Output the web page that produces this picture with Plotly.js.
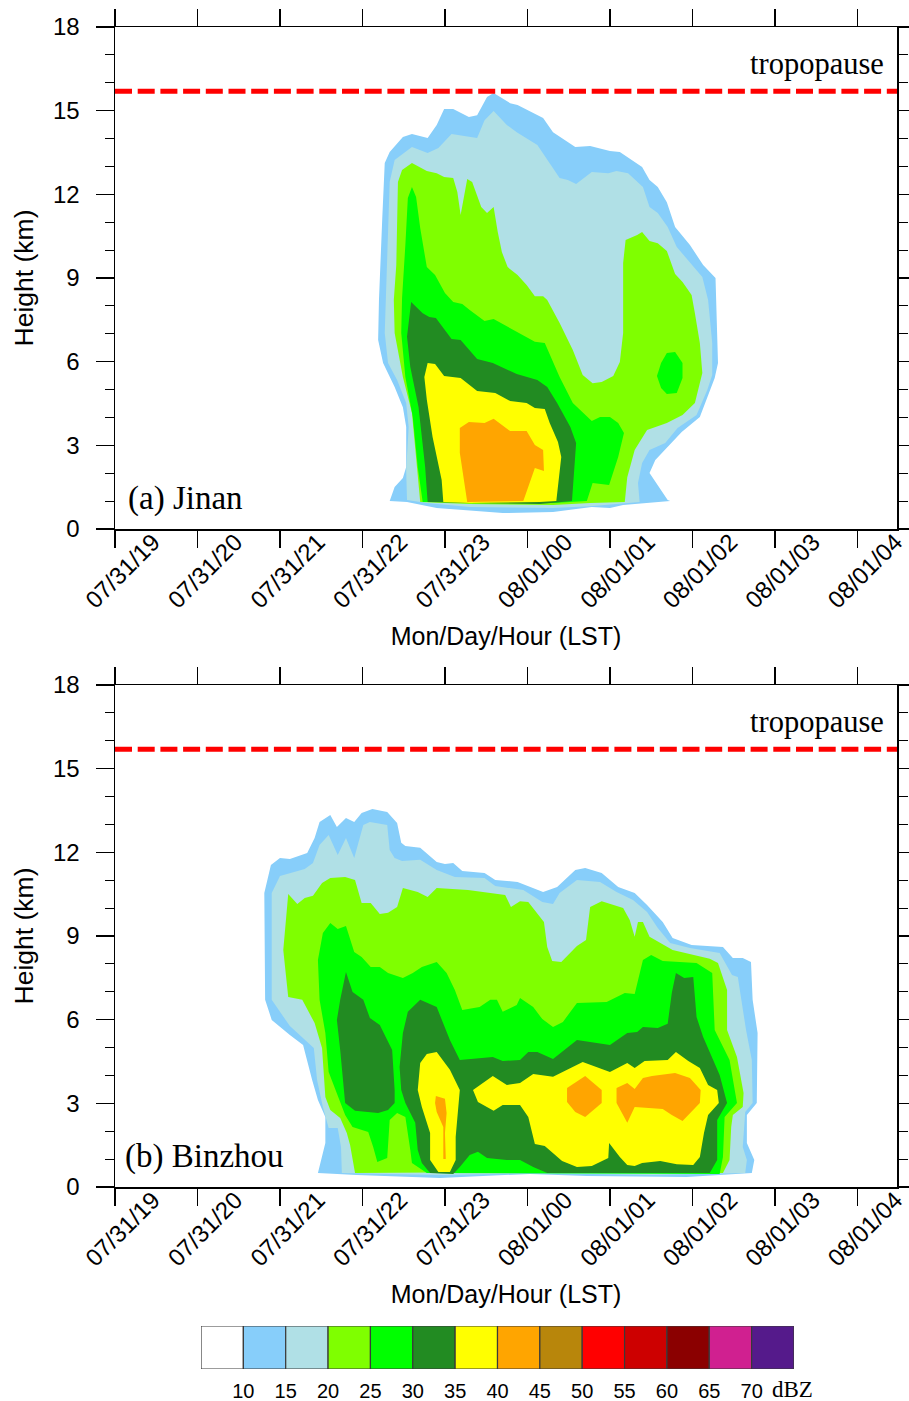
<!DOCTYPE html>
<html><head><meta charset="utf-8">
<script src="https://cdn.plot.ly/plotly-3.0.1.min.js"></script>
<style>html,body{margin:0;padding:0;background:#fff}#c{width:909px;height:1401px}</style>
</head><body><div id="c"></div>
<script>
// hours after 07/31 19 LST
const tickHours=[0,1,2,3,4,5,6,7,8,9];
const tickLabels=['07/31/19','07/31/20','07/31/21','07/31/22','07/31/23','08/01/00','08/01/01','08/01/02','08/01/03','08/01/04'];
const levels=['10','15','20','25','30','35','40','45','50','55','60','65','70'];
const colors=['#FFFFFF','#87CEFA','#B0E0E6','#7FFF00','#00FF00','#228B22','#FFFF00','#FFA500','#B8860B','#FF0000','#CD0000','#8B0000','#D02090','#551A8B'];
const tropopauseKm=15.7;

// Contour outlines: [hour, km]
const jinan10=[[3.33,1.00],[3.39,1.51],[3.49,1.83],[3.53,2.22],[3.53,3.66],[3.49,4.37],[3.39,5.09],[3.25,5.95],[3.19,6.78],[3.20,8.21],[3.24,11.15],[3.27,13.12],[3.33,13.52],[3.49,14.06],[3.60,14.16],[3.79,14.02],[3.90,14.49],[3.99,15.06],[4.10,15.06],[4.29,14.77],[4.39,14.84],[4.51,15.49],[4.59,15.63],[4.79,15.27],[4.88,15.20],[5.07,14.92],[5.19,14.74],[5.31,14.23],[5.58,13.70],[5.76,13.73],[6.00,13.55],[6.12,13.52],[6.39,12.98],[6.48,12.51],[6.58,12.26],[6.69,11.72],[6.79,10.83],[6.97,10.18],[7.13,9.47],[7.28,9.00],[7.31,6.42],[7.31,5.95],[7.27,5.41],[7.09,4.02],[6.87,3.48],[6.55,2.47],[6.48,2.01],[6.70,1.04],[6.73,1.00],[6.16,0.86],[6.00,0.75],[5.78,0.79],[5.31,0.61],[4.70,0.57],[3.90,0.75],[3.54,0.97]];
const jinan15=[[3.54,1.04],[3.53,2.12],[3.56,3.66],[3.53,4.52],[3.42,5.34],[3.31,5.95],[3.27,7.03],[3.28,8.03],[3.33,12.44],[3.39,13.23],[3.60,13.70],[3.79,13.48],[3.92,13.66],[4.08,14.16],[4.39,14.02],[4.48,14.66],[4.59,14.99],[4.75,14.49],[4.87,14.23],[5.12,13.77],[5.24,13.23],[5.39,12.59],[5.49,12.51],[5.59,12.37],[5.78,12.80],[5.98,12.76],[6.08,12.84],[6.22,12.76],[6.40,12.26],[6.48,11.55],[6.58,11.33],[6.70,10.83],[6.81,10.11],[7.12,9.04],[7.19,8.21],[7.24,6.67],[7.24,5.52],[7.18,4.98],[7.05,4.09],[6.82,3.62],[6.67,3.08],[6.48,2.83],[6.39,2.37],[6.34,1.65],[6.36,0.97],[6.12,0.90],[5.76,0.82],[5.31,0.75],[4.30,0.79],[3.78,0.93]];
const jinan20=[[3.70,0.97],[3.66,2.22],[3.60,4.16],[3.49,5.45],[3.39,7.03],[3.38,8.21],[3.41,9.47],[3.43,12.44],[3.48,12.87],[3.60,13.12],[3.78,12.84],[3.90,12.76],[3.99,12.62],[4.10,12.59],[4.15,12.08],[4.19,11.26],[4.27,12.55],[4.33,12.44],[4.44,11.55],[4.51,11.33],[4.59,11.55],[4.64,10.65],[4.69,9.93],[4.76,9.39],[4.88,9.11],[4.99,8.75],[5.09,8.35],[5.19,8.35],[5.24,8.21],[5.39,7.39],[5.55,6.42],[5.67,5.52],[5.79,5.23],[5.90,5.27],[6.04,5.49],[6.12,5.99],[6.16,7.03],[6.16,9.54],[6.19,10.36],[6.33,10.54],[6.39,10.65],[6.48,10.33],[6.58,10.25],[6.69,9.97],[6.79,9.14],[6.88,8.86],[6.99,8.39],[7.03,7.74],[7.09,6.67],[7.12,5.59],[7.03,4.52],[6.88,4.09],[6.69,3.80],[6.45,3.55],[6.30,2.83],[6.21,1.86],[6.18,0.97],[5.76,0.93],[5.31,0.86],[4.30,0.90]];
const jinan25=[[3.73,0.97],[3.67,2.22],[3.61,4.02],[3.52,5.45],[3.47,7.03],[3.48,8.28],[3.52,10.18],[3.55,11.87],[3.60,12.26],[3.65,11.90],[3.70,10.79],[3.78,9.39],[3.88,9.11],[4.00,8.46],[4.10,8.14],[4.21,8.07],[4.30,7.85],[4.48,7.46],[4.59,7.53],[4.79,7.21],[5.09,6.71],[5.21,6.67],[5.27,6.24],[5.39,5.45],[5.55,4.52],[5.72,4.02],[5.78,3.87],[5.88,4.02],[6.00,4.02],[6.10,3.80],[6.17,3.44],[6.10,2.58],[5.99,1.58],[5.79,1.65],[5.72,1.00],[5.31,0.93],[4.30,0.97]];
const jinan25Blob=[[6.69,6.31],[6.79,6.35],[6.88,5.95],[6.88,5.41],[6.81,4.88],[6.69,4.84],[6.62,5.06],[6.57,5.49],[6.62,5.95]];
const jinan30=[[3.79,0.97],[3.76,2.22],[3.68,4.37],[3.58,5.81],[3.54,6.89],[3.59,8.14],[3.73,7.74],[3.81,7.60],[3.89,7.57],[4.08,6.81],[4.19,6.78],[4.39,6.10],[4.58,5.95],[4.87,5.56],[5.12,5.34],[5.24,5.09],[5.36,4.52],[5.52,3.66],[5.59,3.08],[5.54,1.00],[5.15,0.90],[4.30,0.93]];
const jinan35=[[3.98,0.97],[3.96,1.76],[3.85,3.30],[3.78,4.63],[3.75,5.45],[3.79,5.95],[3.88,5.92],[3.99,5.49],[4.19,5.41],[4.39,4.95],[4.61,4.88],[4.79,4.59],[4.99,4.52],[5.09,4.34],[5.21,4.30],[5.27,3.80],[5.37,3.12],[5.41,2.58],[5.35,1.00],[5.15,0.97],[4.30,0.93]];
const jinan40=[[4.27,0.97],[4.22,1.86],[4.18,2.73],[4.18,3.62],[4.29,3.84],[4.48,3.80],[4.59,3.95],[4.79,3.51],[4.99,3.51],[5.09,3.01],[5.19,2.83],[5.20,2.08],[5.09,2.19],[4.95,1.00]];

const binzhou10=[[2.46,0.50],[2.50,0.97],[2.55,1.58],[2.55,2.51],[2.46,3.12],[2.39,3.84],[2.30,4.91],[2.28,5.09],[2.12,5.45],[1.90,5.99],[1.82,6.71],[1.81,10.54],[1.89,11.55],[2.00,11.80],[2.12,11.76],[2.33,11.98],[2.42,12.51],[2.48,13.09],[2.61,13.34],[2.69,12.91],[2.80,13.23],[2.90,13.09],[2.99,13.41],[3.12,13.55],[3.30,13.45],[3.42,13.05],[3.47,12.34],[3.52,12.23],[3.70,12.16],[3.90,11.65],[4.00,11.58],[4.10,11.62],[4.21,11.33],[4.48,11.26],[4.61,11.01],[4.73,10.97],[4.88,10.94],[5.19,10.58],[5.36,10.76],[5.58,11.37],[5.70,11.44],[5.90,11.26],[6.10,10.76],[6.30,10.54],[6.45,10.11],[6.64,9.50],[6.76,8.93],[6.99,8.68],[7.37,8.61],[7.49,8.21],[7.61,8.21],[7.71,8.07],[7.73,6.71],[7.79,5.52],[7.78,3.01],[7.66,2.58],[7.66,1.58],[7.75,0.97],[7.72,0.50],[6.93,0.36],[5.72,0.39],[5.03,0.47],[3.94,0.32],[2.93,0.43]];
const binzhou15=[[2.75,0.50],[2.74,1.43],[2.70,2.12],[2.59,2.12],[2.52,2.87],[2.45,3.84],[2.41,4.98],[2.24,5.45],[2.12,5.77],[1.90,6.71],[1.90,10.54],[2.00,11.15],[2.30,11.40],[2.40,11.62],[2.48,12.26],[2.59,12.62],[2.70,11.90],[2.80,12.51],[2.90,11.80],[3.01,12.98],[3.09,13.09],[3.30,12.98],[3.33,12.08],[3.39,11.80],[3.48,11.69],[3.70,11.73],[3.90,11.37],[4.12,11.12],[4.48,11.08],[4.61,10.79],[4.95,10.65],[5.18,10.22],[5.31,10.15],[5.39,10.54],[5.60,11.01],[5.88,10.94],[6.08,10.58],[6.28,10.29],[6.45,9.86],[6.58,9.29],[6.73,8.75],[6.97,8.57],[7.33,8.39],[7.48,7.60],[7.55,7.53],[7.65,5.63],[7.72,4.55],[7.73,3.01],[7.64,2.69],[7.61,1.43],[7.66,0.97],[7.64,0.50],[6.52,0.43],[5.03,0.50],[3.98,0.43],[3.33,0.47]];
const binzhou20=[[2.91,0.50],[2.85,1.51],[2.81,1.94],[2.73,2.47],[2.61,2.76],[2.55,3.23],[2.51,4.98],[2.42,5.88],[2.27,6.71],[2.10,6.81],[2.04,8.50],[2.10,10.51],[2.21,10.15],[2.30,10.36],[2.40,10.44],[2.51,10.90],[2.61,11.08],[2.79,11.12],[2.91,11.01],[2.99,10.18],[3.10,10.18],[3.21,9.79],[3.31,9.83],[3.42,10.04],[3.49,10.72],[3.67,10.58],[3.79,10.40],[3.90,10.72],[4.28,10.65],[4.73,10.47],[4.80,10.04],[4.91,10.25],[5.01,10.22],[5.20,9.50],[5.24,8.61],[5.30,8.10],[5.41,8.07],[5.60,8.64],[5.71,8.86],[5.76,10.04],[5.90,10.25],[6.16,10.00],[6.24,9.57],[6.30,8.97],[6.34,9.50],[6.40,9.50],[6.48,8.97],[6.76,8.50],[7.21,8.18],[7.31,8.03],[7.42,7.06],[7.42,5.63],[7.54,4.66],[7.62,3.37],[7.61,2.87],[7.49,2.58],[7.47,2.15],[7.45,0.97],[7.37,0.50],[5.03,0.54]];
const binzhou25=[[3.78,0.50],[3.60,0.86],[3.58,1.33],[3.52,2.51],[3.42,2.65],[3.33,2.40],[3.30,1.04],[3.18,0.90],[3.13,1.43],[3.07,1.97],[2.88,2.15],[2.79,2.58],[2.59,4.12],[2.55,5.52],[2.48,6.71],[2.46,8.14],[2.52,9.11],[2.61,9.47],[2.70,9.25],[2.80,9.36],[2.90,8.43],[2.99,8.25],[3.10,7.89],[3.21,7.89],[3.31,7.67],[3.49,7.49],[3.61,7.67],[3.72,7.89],[3.90,8.07],[4.02,7.67],[4.12,7.06],[4.21,6.35],[4.42,6.45],[4.55,6.71],[4.63,6.71],[4.70,6.28],[4.87,6.53],[4.91,6.78],[5.07,6.45],[5.18,6.02],[5.31,5.74],[5.43,5.92],[5.60,6.60],[5.96,6.63],[6.18,6.96],[6.30,6.92],[6.40,8.14],[6.50,8.32],[6.64,8.10],[7.05,8.03],[7.24,7.67],[7.27,5.63],[7.45,4.55],[7.54,3.01],[7.39,2.51],[7.37,1.08],[7.33,0.47]];
const binzhou30Left=[[2.80,7.71],[2.88,6.99],[3.01,6.71],[3.09,6.06],[3.21,5.81],[3.36,4.91],[3.39,3.48],[3.39,3.01],[3.31,2.76],[3.19,2.65],[2.91,2.73],[2.79,3.01],[2.73,4.91],[2.69,5.99],[2.73,6.71]];
const binzhou30Main=[[3.70,6.71],[3.55,6.28],[3.49,5.52],[3.45,4.30],[3.47,3.48],[3.52,3.01],[3.64,2.30],[3.67,1.33],[3.72,0.86],[3.82,0.50],[4.10,0.47],[4.18,0.72],[4.30,1.15],[4.40,1.26],[4.51,1.04],[4.75,0.97],[4.91,0.97],[5.07,0.72],[5.24,0.50],[7.21,0.50],[7.30,0.97],[7.30,2.40],[7.42,3.01],[7.33,4.02],[7.13,5.38],[7.05,6.10],[7.01,7.53],[6.90,7.49],[6.80,7.67],[6.75,6.96],[6.70,5.85],[6.58,5.70],[6.40,5.74],[6.33,5.56],[6.21,5.52],[6.00,5.09],[5.60,5.27],[5.31,4.59],[5.12,4.84],[5.01,4.84],[4.91,4.55],[4.70,4.52],[4.58,4.66],[4.18,4.55],[4.06,5.27],[3.90,6.45]];
const binzhou35Left=[[3.90,4.84],[3.78,4.77],[3.70,4.45],[3.67,3.48],[3.72,2.87],[3.82,1.94],[3.82,0.97],[3.92,0.54],[4.06,0.54],[4.13,0.97],[4.13,1.79],[4.18,3.48],[4.06,4.20]];
const binzhou35Main=[[4.34,3.48],[4.58,3.98],[4.75,3.66],[4.91,3.73],[5.07,4.05],[5.31,3.95],[5.67,4.48],[6.00,4.12],[6.21,4.45],[6.30,4.27],[6.42,4.52],[6.70,4.55],[6.80,4.84],[6.95,4.52],[7.09,4.27],[7.19,3.66],[7.30,3.48],[7.32,3.01],[7.19,2.58],[7.14,1.94],[7.09,1.08],[7.01,0.79],[6.81,0.82],[6.61,0.93],[6.39,0.86],[6.30,0.75],[6.21,0.79],[6.12,1.08],[5.99,1.58],[5.98,1.04],[5.78,0.75],[5.60,0.72],[5.42,0.93],[5.21,1.47],[5.09,1.54],[5.01,2.51],[4.91,2.94],[4.70,2.94],[4.59,2.73],[4.40,3.05]];
const binzhou40Left=[[3.89,3.26],[4.00,3.16],[4.02,2.65],[4.00,1.94],[4.01,1.00],[3.98,1.00],[3.98,2.15],[3.90,2.69],[3.88,3.01]];
const binzhou40Mid=[[5.70,3.98],[5.90,3.48],[5.90,3.01],[5.70,2.51],[5.58,2.69],[5.48,3.05],[5.48,3.55]];
const binzhou40Right=[[6.21,3.73],[6.30,3.51],[6.40,3.91],[6.51,3.98],[6.79,4.09],[6.97,3.91],[7.10,3.48],[7.09,3.01],[6.88,2.37],[6.75,2.58],[6.64,2.80],[6.30,2.87],[6.21,2.30],[6.08,3.01],[6.08,3.55]];

const C={10:colors[1],15:colors[2],20:colors[3],25:colors[4],30:colors[5],35:colors[6],40:colors[7]};
function band(pts,level,xa,ya){
  return {type:'scatter',mode:'lines',x:pts.map(p=>p[0]),y:pts.map(p=>p[1]),fill:'toself',fillcolor:C[level],
    line:{width:0,color:C[level]},hoverinfo:'skip',showlegend:false,xaxis:xa,yaxis:ya};
}
function tropo(xa,ya){
  return {type:'scatter',mode:'lines',x:[0,9.48],y:[tropopauseKm,tropopauseKm],
    line:{color:'#FF0000',width:5,dash:'17px,5.7px'},hoverinfo:'skip',showlegend:false,xaxis:xa,yaxis:ya,cliponaxis:false};
}
const traces=[
 band(jinan10,10,'x','y'),band(jinan15,15,'x','y'),band(jinan20,20,'x','y'),band(jinan25,25,'x','y'),band(jinan25Blob,25,'x','y'),
 band(jinan30,30,'x','y'),band(jinan35,35,'x','y'),band(jinan40,40,'x','y'),tropo('x','y'),
 band(binzhou10,10,'x2','y2'),band(binzhou15,15,'x2','y2'),band(binzhou20,20,'x2','y2'),band(binzhou25,25,'x2','y2'),
 band(binzhou30Left,30,'x2','y2'),band(binzhou30Main,30,'x2','y2'),band(binzhou35Left,35,'x2','y2'),band(binzhou35Main,35,'x2','y2'),
 band(binzhou40Left,40,'x2','y2'),band(binzhou40Mid,40,'x2','y2'),band(binzhou40Right,40,'x2','y2'),tropo('x2','y2'),
 {type:'bar',x:colors.map((c,i)=>i+0.5),y:colors.map(()=>1),width:1,marker:{color:colors,line:{color:'#3a3a3a',width:1.2}},hoverinfo:'skip',showlegend:false,xaxis:'x3',yaxis:'y3'}
];
const W=909,H=1401;
const sans='"Liberation Sans",Arial,sans-serif', serif='"Liberation Serif","Times New Roman",serif';
function xax(anchor){return {anchor:anchor,domain:[115/W,897/W],range:[0,9.48],tickmode:'array',tickvals:tickHours,ticktext:tickLabels,
  tickangle:-45,ticks:'outside',ticklen:17,tickwidth:1.5,tickcolor:'#000',showline:true,linewidth:1.5,linecolor:'#000',mirror:'allticks',
  showgrid:false,zeroline:false,tickfont:{family:sans,size:24,color:'#000'},ticklabelshift:38,ticklabelstandoff:-29,ticklabeloverflow:'allow',
  title:{text:'Mon/Day/Hour (LST)',font:{family:sans,size:25,color:'#000'},standoff:15},automargin:false};}
function yax(anchor,top,bot){return {anchor:anchor,domain:[1-bot/H,1-top/H],range:[0,18],tickmode:'array',tickvals:[0,3,6,9,12,15,18],
  ticks:'outside',ticklen:18,tickwidth:1.5,tickcolor:'#000',showline:true,linewidth:1.5,linecolor:'#000',mirror:'allticks',
  minor:{tickmode:'array',tickvals:[1,2,4,5,7,8,10,11,13,14,16,17],ticks:'outside',ticklen:9,tickwidth:1.2,tickcolor:'#000'},
  showgrid:false,zeroline:false,tickfont:{family:sans,size:24,color:'#000'},ticklabelstandoff:11,
  title:{text:'Height (km)',font:{family:sans,size:26.5,color:'#000'},standoff:11},automargin:false};}
function note(text,x,y,xr,yr,size){return {text:text,x:x,y:y,xref:xr,yref:yr,showarrow:false,xanchor:'center',yanchor:'middle',font:{family:serif,size:size,color:'#000'}};}
const layout={width:W,height:H,margin:{l:0,r:0,t:0,b:0},paper_bgcolor:'#fff',plot_bgcolor:'#fff',showlegend:false,barmode:'overlay',
 xaxis:xax('y'),yaxis:yax('x',27,529),xaxis2:xax('y2'),yaxis2:yax('x2',685,1187),
 xaxis3:{anchor:'y3',domain:[201/W,794/W],range:[0,14],tickmode:'array',tickvals:levels.map((l,i)=>i+1),ticktext:levels,ticks:'',showgrid:false,zeroline:false,showline:false,
   tickfont:{family:sans,size:20,color:'#000'},ticklabelstandoff:8,tickangle:0},
 yaxis3:{anchor:'x3',domain:[1-1369/H,1-1326/H],range:[0,1],showticklabels:false,ticks:'',showgrid:false,zeroline:false,showline:false},
 annotations:[
  note('tropopause',8.51,16.67,'x','y',30.5),note('(a) Jinan',0.85,1.11,'x','y',33),
  note('tropopause',8.51,16.67,'x2','y2',30.5),note('(b) Binzhou',1.09,1.08,'x2','y2',33),
  note('dBZ',792/W,1-1389/H,'paper','paper',23)
 ]};
Plotly.newPlot('c',traces,layout,{displayModeBar:false,staticPlot:true});
</script></body></html>
